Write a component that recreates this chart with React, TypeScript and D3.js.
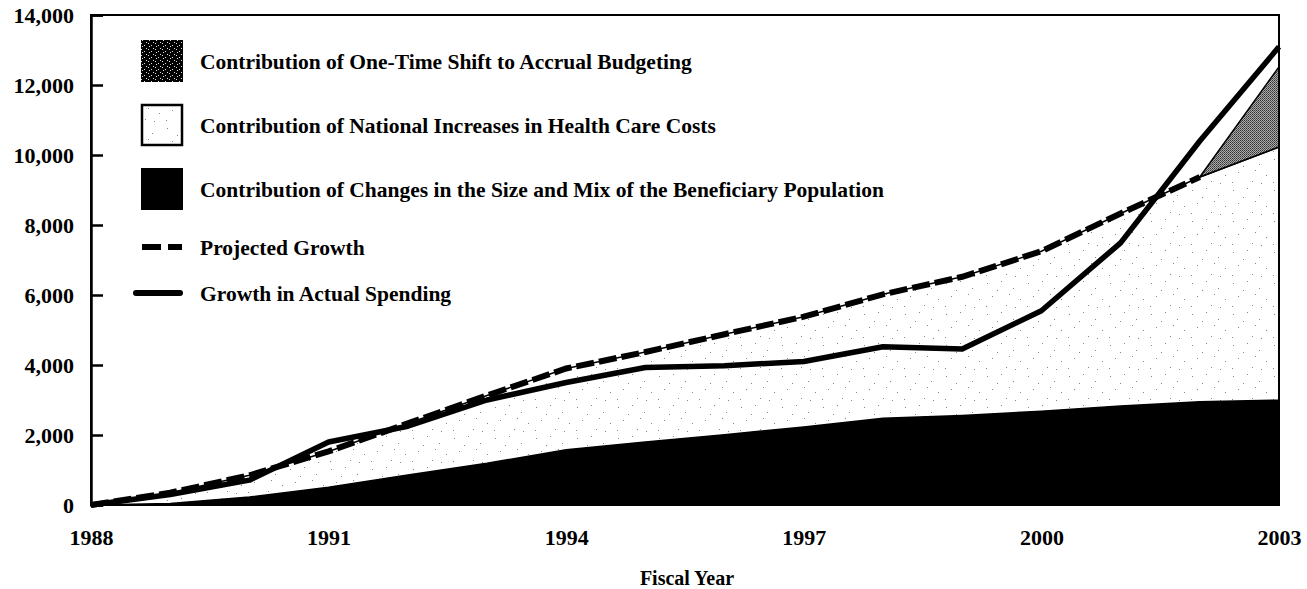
import React, { useRef, useEffect } from "react";
import * as d3 from "d3";

// fiscal years on the x axis
const years = [
  1988, 1989, 1990, 1991, 1992, 1993, 1994, 1995, 1996, 1997, 1998, 1999,
  2000, 2001, 2002, 2003,
];
const xTickYears = [1988, 1991, 1994, 1997, 2000, 2003];
const yTicks = [0, 2000, 4000, 6000, 8000, 10000, 12000, 14000];

// stacked contributions (millions of dollars)
const population = [
  0, 40, 230, 510, 860, 1190, 1580, 1800, 2010, 2230, 2480, 2560, 2680, 2830,
  2950, 3000,
];
const healthCosts = [
  0, 310, 620, 1020, 1470, 1940, 2320, 2570, 2870, 3150, 3540, 3960, 4570,
  5500, 6420, 7230,
];
const accrual = [0, 0, 0, 0, 0, 0, 0, 0, 0, 0, 0, 0, 0, 0, 0, 2290];

// lines
const projected = [
  0, 350, 850, 1530, 2330, 3130, 3900, 4370, 4880, 5380, 6020, 6520, 7250,
  8330, 9370,
];
const actual = [
  0, 300, 710, 1800, 2250, 3000, 3500, 3930, 3980, 4100, 4520, 4460, 5550,
  7490, 10400, 13090,
];

const legendItems = [
  "Contribution of One-Time Shift to Accrual Budgeting",
  "Contribution of National Increases in Health Care Costs",
  "Contribution of Changes in the Size and Mix of the Beneficiary Population",
];

const FONT = "'Liberation Serif', 'DejaVu Serif', serif";

export default function App() {
  const svgRef = useRef<SVGSVGElement>(null);

  useEffect(() => {
    const svg = d3.select(svgRef.current);
    svg.selectAll("*").remove();

    const x = d3.scaleLinear().domain([1988, 2003]).range([91, 1279]);
    const y = d3.scaleLinear().domain([0, 14000]).range([505, 15]);

    const defs = svg.append("defs");

    // sparse stipple for health care costs
    const hp = defs
      .append("pattern")
      .attr("id", "stipple")
      .attr("patternUnits", "userSpaceOnUse")
      .attr("width", 41)
      .attr("height", 31);
    hp.append("rect").attr("width", 41).attr("height", 31).attr("fill", "#fff");
    [
      [3, 4], [17, 2], [29, 9], [36, 20], [8, 17], [22, 26], [13, 11],
      [31, 28], [2, 27], [25, 15],
    ].forEach(([a, b]) =>
      hp.append("rect").attr("x", a).attr("y", b).attr("width", 1).attr("height", 1).attr("fill", "#888")
    );

    // dark grain for accrual shift
    const ap = defs
      .append("pattern")
      .attr("id", "grain")
      .attr("patternUnits", "userSpaceOnUse")
      .attr("width", 2)
      .attr("height", 2);
    ap.append("rect").attr("width", 2).attr("height", 2).attr("fill", "#aaa");
    ap.append("rect").attr("width", 1).attr("height", 1).attr("fill", "#333");
    ap.append("rect").attr("x", 1).attr("y", 1).attr("width", 1).attr("height", 1).attr("fill", "#555");

    // swatch pattern: black with white specks
    const sp = defs
      .append("pattern")
      .attr("id", "speck")
      .attr("patternUnits", "userSpaceOnUse")
      .attr("width", 7)
      .attr("height", 6);
    sp.append("rect").attr("width", 7).attr("height", 6).attr("fill", "#000");
    [[1, 1], [4, 3], [2, 4], [6, 0]].forEach(([a, b]) =>
      sp.append("rect").attr("x", a).attr("y", b).attr("width", 1).attr("height", 1).attr("fill", "#ddd")
    );

    const table = years.map((yr, i) => ({
      year: yr,
      population: population[i],
      health: healthCosts[i],
      accrual: accrual[i],
    }));
    const series = d3
      .stack<any>()
      .keys(["population", "health", "accrual"])(table);

    const area = d3
      .area<any>()
      .x((d) => x(d.data.year))
      .y0((d) => y(d[0]))
      .y1((d) => y(d[1]));

    // health area
    svg
      .append("path")
      .datum(series[1])
      .attr("d", area)
      .attr("fill", "url(#stipple)")
      .attr("stroke", "#000")
      .attr("stroke-width", 1.5);

    // accrual area, only final two years
    svg
      .append("path")
      .datum(series[2].slice(years.length - 2))
      .attr("d", area)
      .attr("fill", "url(#grain)")
      .attr("stroke", "#000")
      .attr("stroke-width", 1.5);

    // population area
    svg
      .append("path")
      .datum(series[0])
      .attr("d", area)
      .attr("fill", "#000");

    // frame
    svg
      .append("rect")
      .attr("x", x(1988))
      .attr("y", y(14000))
      .attr("width", x(2003) - x(1988))
      .attr("height", y(0) - y(14000))
      .attr("fill", "none")
      .attr("stroke", "#000")
      .attr("stroke-width", 2);

    // y axis, ticks inward
    const yAxis = d3
      .axisLeft(y)
      .tickValues(yTicks)
      .tickSize(-12)
      .tickPadding(17)
      .tickFormat(d3.format(","));
    const yg = svg
      .append("g")
      .attr("transform", `translate(${x(1988)},0)`)
      .call(yAxis);
    yg.select(".domain").attr("stroke-width", 2.5);
    yg.selectAll(".tick line").attr("stroke-width", 2.5);
    yg.selectAll(".tick text")
      .attr("font-family", FONT)
      .attr("font-weight", "bold")
      .attr("font-size", 22)
      .attr("fill", "#000");

    // x axis labels
    const xAxis = d3
      .axisBottom(x)
      .tickValues(xTickYears)
      .tickSize(0)
      .tickPadding(24)
      .tickFormat(d3.format("d"));
    const xg = svg
      .append("g")
      .attr("transform", `translate(0,${y(0)})`)
      .call(xAxis);
    xg.select(".domain").remove();
    xg.selectAll(".tick text")
      .attr("font-family", FONT)
      .attr("font-weight", "bold")
      .attr("font-size", 22)
      .attr("fill", "#000");

    svg
      .append("text")
      .attr("x", 687)
      .attr("y", 585)
      .attr("text-anchor", "middle")
      .attr("font-family", FONT)
      .attr("font-weight", "bold")
      .attr("font-size", 20)
      .text("Fiscal Year");

    // lines
    const lineGen = d3
      .line<number>()
      .x((d, i) => x(years[i]))
      .y((d) => y(d));

    svg
      .append("path")
      .datum(projected)
      .attr("d", lineGen)
      .attr("fill", "none")
      .attr("stroke", "#000")
      .attr("stroke-width", 6)
      .attr("stroke-dasharray", "18,5");

    svg
      .append("path")
      .datum(actual)
      .attr("d", lineGen)
      .attr("fill", "none")
      .attr("stroke", "#000")
      .attr("stroke-width", 5.5)
      .attr("stroke-linejoin", "round");

    // legend
    const lg = svg.append("g");
    const swatchFills = ["url(#speck)", "url(#stipple)", "#000"];
    legendItems.forEach((label, i) => {
      const top = 40 + i * 64;
      lg.append("rect")
        .attr("x", i === 1 ? 142 : 141)
        .attr("y", i === 1 ? top + 1 : top)
        .attr("width", i === 1 ? 40 : 42)
        .attr("height", i === 1 ? 40 : 42)
        .attr("fill", swatchFills[i])
        .attr("stroke", i === 1 ? "#000" : "none")
        .attr("stroke-width", 2.5);
      lg.append("text")
        .attr("x", 200)
        .attr("y", top + 21)
        .attr("dy", "0.35em")
        .attr("font-family", FONT)
        .attr("font-weight", "bold")
        .attr("font-size", 21.5)
        .text(label);
    });

    lg.append("line")
      .attr("x1", 142)
      .attr("x2", 182)
      .attr("y1", 247)
      .attr("y2", 247)
      .attr("stroke", "#000")
      .attr("stroke-width", 6)
      .attr("stroke-dasharray", "19,7");
    lg.append("text")
      .attr("x", 200)
      .attr("y", 247)
      .attr("dy", "0.35em")
      .attr("font-family", FONT)
      .attr("font-weight", "bold")
      .attr("font-size", 21.5)
      .text("Projected Growth");

    lg.append("line")
      .attr("x1", 136)
      .attr("x2", 180)
      .attr("y1", 293)
      .attr("y2", 293)
      .attr("stroke", "#000")
      .attr("stroke-width", 6)
      .attr("stroke-linecap", "round");
    lg.append("text")
      .attr("x", 200)
      .attr("y", 293)
      .attr("dy", "0.35em")
      .attr("font-family", FONT)
      .attr("font-weight", "bold")
      .attr("font-size", 21.5)
      .text("Growth in Actual Spending");
  }, []);

  return (
    <svg
      ref={svgRef}
      width={1307}
      height={589}
      style={{ position: "absolute", left: 0, top: 0, background: "#fff" }}
    />
  );
}
